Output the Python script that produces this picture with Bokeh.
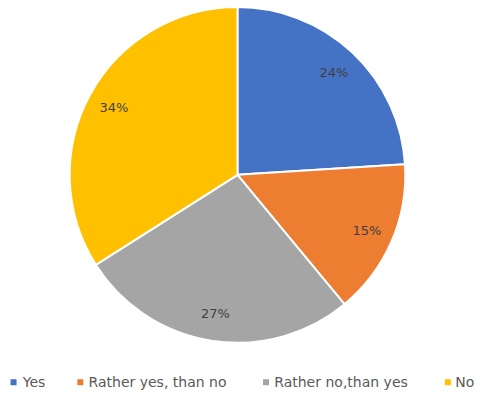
import math
from bokeh.plotting import figure
from bokeh.models import Range1d, ColumnDataSource
from bokeh.core.properties import value
from bokeh.embed import file_html
from bokeh.resources import INLINE

categories = ["Yes", "Rather yes, than no", "Rather no,than yes", "No"]
values = [24, 15, 27, 34]
labels = ["24%", "15%", "27%", "34%"]
colors = ["#4472C4", "#ED7D31", "#A5A5A5", "#FFC000"]

# layout (reference pixel coordinates, y measured from top of a 490x407 canvas)
REF_W, REF_H = 490, 407
W, H = 474, 391
CX, CY, R = 245, 181.5, 173.5
LEG_SQ_X = [13.5, 82.5, 274.5, 462.5]
LEG_TX_X = [23, 91, 283, 470]
LEG_Y = 397.5

p = figure(width=W, height=H, output_backend="svg", toolbar_location=None,
           x_range=Range1d(0, REF_W), y_range=Range1d(0, REF_H),
           min_border=0, outline_line_color=None)
p.axis.visible = False
p.grid.visible = False

cx, cy = CX, REF_H - CY
total = sum(values)
starts, ends, lx, ly = [], [], [], []
acc = 0
for v in values:
    a0 = math.pi / 2 - 2 * math.pi * acc / total
    a1 = math.pi / 2 - 2 * math.pi * (acc + v) / total
    starts.append(a0)
    ends.append(a1)
    mid = (a0 + a1) / 2
    lx.append(cx + 0.84 * R * math.cos(mid))
    ly.append(cy + 0.84 * R * math.sin(mid))
    acc += v

src = ColumnDataSource(dict(start=starts, end=ends, color=colors, cat=categories,
                            lx=lx, ly=ly, label=labels))
p.wedge(x=cx, y=cy, radius=R, radius_units="data",
        start_angle="start", end_angle="end", direction="clock",
        fill_color="color", line_color="white", line_width=2, source=src)

p.text(x="lx", y="ly", text="label", source=src, text_align="center",
       text_baseline="middle", text_font_size="13px", text_color="#404040",
       text_font=value("DejaVu Sans"))

leg = ColumnDataSource(dict(sx=LEG_SQ_X, tx=LEG_TX_X,
                            y=[REF_H - LEG_Y] * len(categories),
                            cat=categories, color=colors))
p.scatter(x="sx", y="y", source=leg, marker="square", size=6,
          fill_color="color", line_color=None)
p.text(x="tx", y="y", text="cat", source=leg, text_align="left",
       text_baseline="middle", text_font_size="14px", text_color="#595959",
       text_font=value("DejaVu Sans"))

open("out.html", "w").write(file_html(p, INLINE))
